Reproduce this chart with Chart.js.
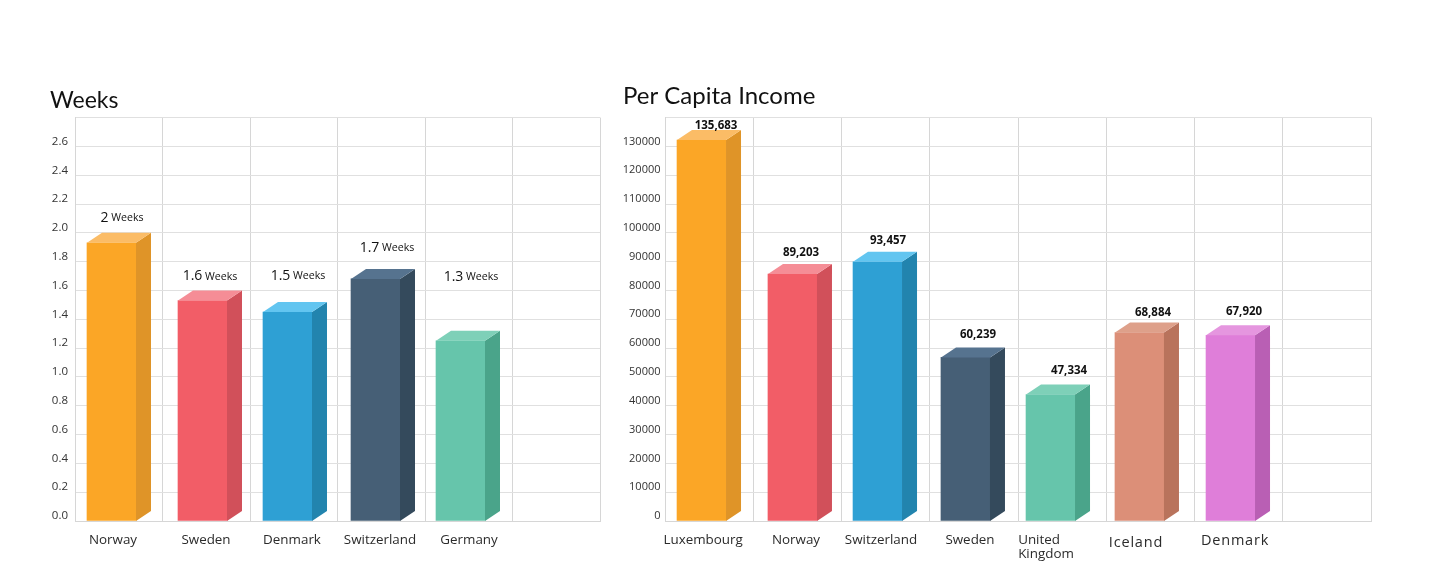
<!DOCTYPE html>
<html>
<head>
<meta charset="utf-8">
<title>Weeks and Per Capita Income</title>
<script src="https://cdn.jsdelivr.net/npm/chart.js@4"></script>
<style>
    body { margin: 0; background: #fff; }
    canvas { position: absolute; }
    #weeksChart { left: 50px; top: 70px; }
    #incomeChart { left: 603px; top: 70px; }
</style>
</head>
<body>
<canvas id="weeksChart" width="560" height="500"></canvas>
<canvas id="incomeChart" width="780" height="500"></canvas>
<script>
// Chart data
const weeksCategories = ['Norway', 'Sweden', 'Denmark', 'Switzerland', 'Germany', ''];
const weeksValues = [2.0, 1.6, 1.52, 1.75, 1.32];
const weeksValueLabels = ['2', '1.6', '1.5', '1.7', '1.3'];

const incomeCategories = ['Luxembourg', 'Norway', 'Switzerland', 'Sweden', ['United', 'Kingdom'], 'Iceland', 'Denmark', ''];
const incomeValues = [135683, 89203, 93457, 60239, 47334, 68884, 67920];

// Bar colours: front, side, top
const frontColors = ['#FBA626', '#F25D67', '#2EA0D4', '#465F76', '#66C5AB', '#DC8F78', '#DF7ED9'];
const sideColors = ['#DF9428', '#D1505A', '#2284AE', '#344A5C', '#4AA48A', '#B9735C', '#B95FB4'];
const topColors = ['#FBBC66', '#F58D96', '#62C5F0', '#56738F', '#7ED0B8', '#DEA08A', '#E596DF'];

const FONT = '"Open Sans", sans-serif';
const DEPTH_X = 15;
const DEPTH_Y = 10;

// Draws the fake 3D block, the value labels and the category labels
const blockPlugin = {
    id: 'block3d',
    afterDatasetsUpdate(chart, args, opts) {
        chart.getDatasetMeta(0).data.forEach((bar, i) => {
            bar.x += opts.barDx[i];
            bar.y += DEPTH_Y;
        });
    },
    afterDatasetsDraw(chart, args, opts) {
        const ctx = chart.ctx;
        const base = chart.scales.y.getPixelForValue(0);
        ctx.save();
        chart.getDatasetMeta(0).data.forEach((bar, i) => {
            const left = bar.x - bar.width / 2;
            const right = bar.x + bar.width / 2;
            const top = bar.y;

            ctx.fillStyle = sideColors[i];
            ctx.beginPath();
            ctx.moveTo(right, top);
            ctx.lineTo(right + DEPTH_X, top - DEPTH_Y);
            ctx.lineTo(right + DEPTH_X, base - DEPTH_Y);
            ctx.lineTo(right, base);
            ctx.closePath();
            ctx.fill();

            ctx.fillStyle = topColors[i];
            ctx.beginPath();
            ctx.moveTo(left, top);
            ctx.lineTo(left + DEPTH_X, top - DEPTH_Y);
            ctx.lineTo(right + DEPTH_X, top - DEPTH_Y);
            ctx.lineTo(right, top);
            ctx.closePath();
            ctx.fill();

            // Value label, e.g. "1.6 Weeks"
            const cx = bar.x + opts.labelDx[i];
            const cy = top - DEPTH_Y + opts.labelDy[i];
            ctx.textBaseline = 'middle';
            ctx.textAlign = 'left';
            ctx.fillStyle = '#111';
            ctx.font = opts.valueFont;
            const mainWidth = ctx.measureText(opts.valueText[i]).width;
            let unitWidth = 0;
            if (opts.unit) {
                ctx.font = opts.unitFont;
                unitWidth = ctx.measureText(opts.unit).width;
            }
            const startX = cx - (mainWidth + unitWidth) / 2;
            ctx.font = opts.valueFont;
            ctx.fillText(opts.valueText[i], startX, cy);
            if (opts.unit) {
                ctx.font = opts.unitFont;
                ctx.fillText(opts.unit, startX + mainWidth, cy);
            }
        });

        // Category labels
        const xScale = chart.scales.x;
        ctx.fillStyle = '#2b2b2b';
        xScale.getLabels().forEach((label, i) => {
            if (!label) return;
            const x = xScale.getPixelForValue(i) + opts.catDx[i];
            const y = xScale.bottom + 19 + opts.catDy[i];
            const spaced = opts.catSpaced[i];
            ctx.font = (spaced ? '14.5px ' : '13.4px ') + FONT;
            ctx.letterSpacing = spaced ? '0.8px' : '0px';
            if (Array.isArray(label)) {
                ctx.textAlign = 'left';
                label.forEach((line, n) => ctx.fillText(line, x, y + n * 14));
            } else {
                ctx.textAlign = 'center';
                ctx.fillText(label, x, y);
            }
        });
        ctx.restore();
    }
};

function buildChart(id, config) {
    return new Chart(document.getElementById(id), {
        type: 'bar',
        plugins: [blockPlugin],
        data: {
            labels: config.categories,
            datasets: [{
                data: config.values,
                backgroundColor: frontColors,
                barThickness: 49
            }]
        },
        options: {
            responsive: false,
            animation: false,
            layout: { padding: { bottom: 49, left: config.leftPad, right: config.rightPad } },
            scales: {
                x: {
                    grid: { color: '#d6d6d6', drawTicks: false },
                    border: { color: '#d6d6d6' },
                    ticks: { display: false }
                },
                y: {
                    min: 0,
                    max: config.max,
                    afterFit(scale) { scale.width = config.axisWidth; },
                    grid: { color: '#e0e0e0', drawTicks: false },
                    border: { color: '#d6d6d6' },
                    ticks: {
                        stepSize: config.step,
                        padding: config.tickPadding,
                        labelOffset: -5,
                        color: '#333',
                        font: { family: FONT, size: config.tickSize },
                        callback: config.tickLabel
                    }
                }
            },
            plugins: {
                legend: { display: false },
                tooltip: { enabled: false },
                title: {
                    display: true,
                    text: config.title,
                    align: 'start',
                    color: '#111',
                    font: { family: 'Lato, sans-serif', size: config.titleSize, weight: 'normal' },
                    padding: config.titlePadding
                },
                block3d: config.block
            }
        }
    });
}

// Left chart: weeks
buildChart('weeksChart', {
    categories: weeksCategories,
    values: weeksValues,
    title: 'Weeks',
    titleSize: 23,
    titlePadding: { top: 17, bottom: 3 },
    max: 2.8,
    step: 0.2,
    axisWidth: 25,
    tickPadding: 7,
    tickSize: 11.5,
    leftPad: 0,
    rightPad: 10,
    tickLabel: value => value >= 2.8 ? '' : value.toFixed(1),
    block: {
        barDx: [-7.25, -3.75, -6.25, -5.75, -8.25],
        labelDx: [10.5, 7.5, 10.5, 11.5, 10.5],
        labelDy: [-15, -14, -26, -21, -54],
        valueText: weeksValueLabels,
        unit: ' Weeks',
        valueFont: '14px ' + FONT,
        unitFont: '10.6px ' + FONT,
        catDx: [-5.75, -0.25, -1.75, -1.25, 0.25],
        catDy: [0, 0, 0, 0, 0],
        catSpaced: [false, false, false, false, false]
    }
});

// Right chart: per capita income
buildChart('incomeChart', {
    categories: incomeCategories,
    values: incomeValues,
    title: 'Per Capita Income',
    titleSize: 24,
    titlePadding: { top: 11.5, bottom: 7.3 },
    max: 140000,
    step: 10000,
    axisWidth: 42,
    tickPadding: 4.5,
    tickSize: 11,
    leftPad: 20,
    rightPad: 12,
    tickLabel: value => value >= 140000 ? '' : String(value),
    block: {
        barDx: [-7.6, -4.9, -8.1, -8.4, -11.6, -10.9, -8.1],
        labelDx: [14.5, 8.5, 10.5, 12.5, 18.5, 13.5, 13.5],
        labelDy: [-4, -11, -10.5, -13, -14, -10, -14],
        valueText: incomeValues.map(v => v.toLocaleString('en-US')),
        unit: '',
        valueFont: 'bold 11.5px ' + FONT,
        unitFont: '11px ' + FONT,
        catDx: [-6, -1.4, -4.6, -3.9, -44, -14.4, -3.6],
        catDy: [0, 0, 0, 0, 0, 3, 1],
        catSpaced: [false, false, false, false, false, true, true]
    }
});
</script>
</body>
</html>
